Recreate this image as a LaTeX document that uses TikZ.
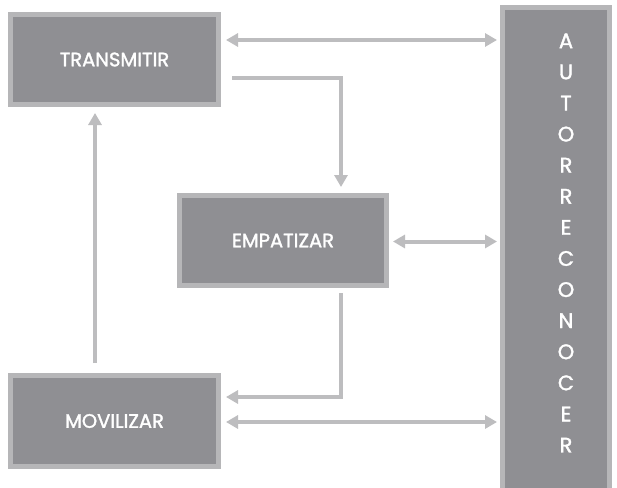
\documentclass[tikz,border=0pt]{standalone}
\usepackage{fontspec}
\setmainfont{Poppins}
\newfontfamily\stagefont{Poppins}[FakeBold=1.6]
\usetikzlibrary{calc,arrows.meta}

\definecolor{boxfill}{RGB}{143,143,147}
\definecolor{boxrim}{RGB}{182,182,184}
\definecolor{linkgray}{RGB}{189,189,191}

\tikzset{
	stage/.style={draw=boxrim, line width=5pt, fill=boxfill, text=white,
		inner sep=0pt, font=\stagefont\fontsize{19.5}{22}\selectfont},
	link/.style={draw=linkgray, line width=4pt,
		arrows={-Triangle[length=12pt,width=13pt]}},
	twoway/.style={link, arrows={Triangle[length=12pt,width=13pt]-Triangle[length=12pt,width=13pt]}}
}

\begin{document}
\begin{tikzpicture}[x=1pt,y=-1pt]
			%%%%% START %%%%%
			\useasboundingbox[fill=white] (0,0) rectangle (617,487);
			\begin{scope}
			\clip (0,0) rectangle (617,487);
			
			\node[stage, minimum width=208pt, minimum height=90pt] (trans) at (114.5, 59.5) {TRANSMITIR};
			\node[stage, minimum width=207pt, minimum height=90pt] (empat) at (283, 240.5) {EMPATIZAR};
			\node[stage, minimum width=208pt, minimum height=91pt] (movil) at (114.5, 421) {MOVILIZAR};
			\node[stage, minimum width=107pt, minimum height=490pt] (auto) at (556, 253) {};
			\node[text=white, align=center, inner sep=0pt, font=\stagefont\fontsize{21}{31.1}\selectfont]
				(autolbl) at (566, 243) {A\\U\\T\\O\\R\\R\\E\\C\\O\\N\\O\\C\\E\\R};
			
			% lanes towards the tall box
			\coordinate (ta) at ($(trans.east)+(5,-19.5)$);
			\draw[twoway] (ta) -- ($(ta -| auto.west)+(-3,0)$);
			
			\coordinate (ea) at ($(empat.east)+(4,1)$);
			\draw[twoway] (ea) -- ($(ea -| auto.west)+(-3,0)$);
			
			\coordinate (ma) at ($(movil.east)+(5,1)$);
			\draw[twoway] (ma) -- ($(ma -| auto.west)+(-3,0)$);
			
			% the loop between the three stages
			\draw[link] ($(trans.east)+(11,18.5)$) -| ($(empat.north)+(58,-6)$);
			\draw[link] ($(empat.south)+(58,5)$) |- ($(movil.east)+(5,-24)$);
			\draw[link] ($(movil.north)+(-19.5,-10)$) -- ($(trans.south)+(-19.5,6)$);
			
			\end{scope}
			%%%%% END %%%%%
\end{tikzpicture}
\end{document}
